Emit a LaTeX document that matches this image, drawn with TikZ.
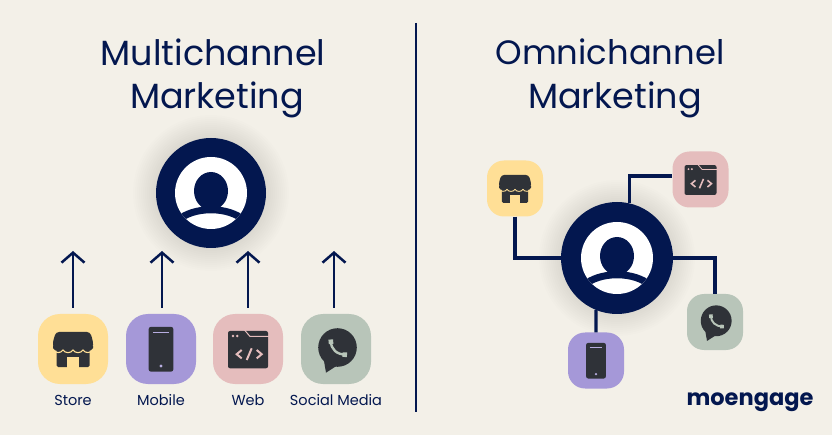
\documentclass[tikz,border=0pt]{standalone}
\usepackage{fontspec}
\setmainfont{Poppins}
\usetikzlibrary{arrows.meta}
\definecolor{paper}{HTML}{F3F0E8}
\definecolor{navy}{HTML}{03174F}
\definecolor{inkdark}{HTML}{2F3238}
\definecolor{storefill}{HTML}{FFDF96}
\definecolor{mobilefill}{HTML}{A598D8}
\definecolor{webfill}{HTML}{E5BDBD}
\definecolor{socialfill}{HTML}{B8C5B9}
\def\iconlw{1}
\tikzset{
	avatar/.pic = {
		\foreach \r in {56,58,...,78}
			\fill[black!70!paper, opacity=.009] (0,0) circle (\r);
	},
	face/.pic = {
		\fill[white] (0,0) circle (36);
		\begin{scope}
			\clip (0,0) circle (36);
			\draw[navy, line width=7pt] (-34,28) .. controls (-18,13) and (18,13) .. (34,28);
		\end{scope}
		\fill[navy] (0,-2) ellipse (17 and 19);
		\fill[navy] (-9,10) rectangle (9,18);
	},
	storeicon/.pic = {
		\fill[inkdark, rounded corners=1.5] (-16.5,-2) rectangle (16.5,18);
		\fill[storefill] (-6,8) rectangle (6,18.5);
		\fill[inkdark, rounded corners=3] (-17,-17) -- (17,-17) -- (20,-8) -- (20,-1) -- (-20,-1) -- (-20,-8) -- cycle;
		\draw[storefill, line width=1.1pt*\iconlw] (-20,0.5) .. controls (-18,4.5) and (-12,4.5) .. (-10,1)
			.. controls (-8,4.5) and (-2,4.5) .. (0,1)
			.. controls (2,4.5) and (8,4.5) .. (10,1)
			.. controls (12,4.5) and (18,4.5) .. (20,0.5);
		\fill[inkdark] (-20,-1) .. controls (-18,3) and (-12,3) .. (-10,-0.5)
			.. controls (-8,3) and (-2,3) .. (0,-0.5)
			.. controls (2,3) and (8,3) .. (10,-0.5)
			.. controls (12,3) and (18,3) .. (20,-1) -- (20,-3) -- (-20,-3) -- cycle;
	},
	mobileicon/.pic = {
		\fill[inkdark, rounded corners=2] (-12.3,-22) rectangle (12.3,22.5);
		\draw[mobilefill!80!white, line width=1pt*\iconlw] (-8,-16.7) -- (8,-16.7);
		\fill[mobilefill!80!white] (0,17) circle (1.6);
	},
	webicon/.pic = {
		\fill[inkdark, rounded corners=2] (-20,-18) rectangle (20,19.3);
		\draw[webfill, line width=1pt*\iconlw] (-3.5,-19) -- (2,-12.5) -- (21,-12.5);
		\fill[webfill] (-15,-13) circle (1.3) (-10.8,-13) circle (1.3);
		\draw[webfill, line width=2pt*\iconlw] (-6.3,1) -- (-11.3,5.2) -- (-6.3,9.4);
		\draw[webfill, line width=2pt*\iconlw] (8.7,1) -- (13.7,5.2) -- (8.7,9.4);
		\draw[webfill, line width=2pt*\iconlw] (3.7,-0.7) -- (-1.3,11);
	},
	socialicon/.pic = {
		\fill[inkdark] (1.5,-1.5) circle (19.3);
		\fill[inkdark] (-12,12) -- (-10,23.7) -- (2,16) -- cycle;
		\draw[socialfill, line width=2.4pt*\iconlw] (-5,-8) .. controls (-5.5,0) and (1,6) .. (10,5.5);
		\draw[socialfill, line width=4.6pt*\iconlw] (-5.3,-9.5) -- (-4.9,-5);
		\draw[socialfill, line width=4.6pt*\iconlw] (6.5,5.6) -- (11,5.8);
	},
}
\begin{document}
\begin{tikzpicture}[x=1pt, y=-1pt, node distance=51pt,
		main/.style = {inner sep=0pt, rounded corners=22pt, minimum size=70pt},
		smalltile/.style = {inner sep=0pt, rounded corners=17pt, minimum size=56pt},
		user/.style = {circle, fill=navy, inner sep=0pt, minimum size=110pt},
		heading/.style = {navy, font=\fontsize{35}{40}\selectfont},
		caption/.style = {navy, font=\fontsize{14.5}{16}\selectfont, text height=11pt},
		arrow/.style = {navy, line width=2.5pt, shorten <=6pt, -{Straight Barb[length=10pt,width=23pt]}},
		link/.style = {navy, line width=3.4pt}]
	\fill[paper] (0,0) rectangle (832,435);

	\node[heading] (titlem0) at (213,52) {Multichannel};
	\node[heading] (titlem1) at (217,100) {Marketing};
	\node[heading, font=\fontsize{33.8}{40}\selectfont] (titleo0) at (610,52) {Omnichannel};
	\node[heading] (titleo1) at (615,100) {Marketing};

	\coordinate (dividertop) at (416,23);
	\coordinate (dividerend) at (416,412);
	\draw[navy, line width=1.8pt] (dividertop) -- (dividerend);

	\path (211,193) pic {avatar};
	\node[user] (userm) at (211,193) {};
	\path (userm) pic {face};

	\node[main, fill=storefill] (storem) at (73,349) {};
	\node[main, fill=mobilefill] (mobilem) at (161,349) {};
	\node[main, fill=webfill] (webm) at (248,349) {};
	\node[main, fill=socialfill] (socialm) at (336,349) {};
	\node[caption, below of = storem] (labelstore) {Store};
	\node[caption, below of = mobilem] (labelmobile) {Mobile};
	\node[caption, below of = webm] (labelweb) {Web};
	\node[caption, below of = socialm] (labelsocial) {Social Media};
	\path (storem) pic {storeicon};
	\path (mobilem) pic {mobileicon};
	\path (webm) pic {webicon};
	\path (socialm) pic {socialicon};

	\coordinate (tipstore) at (73,251);
	\coordinate (tipmobile) at (162,251);
	\coordinate (tipweb) at (248,251);
	\coordinate (tipsocial) at (334,251);
	\draw[arrow] (storem.north) -- (tipstore);
	\draw[arrow] (mobilem.north -| tipmobile) -- (tipmobile);
	\draw[arrow] (webm.north) -- (tipweb);
	\draw[arrow] (socialm.north -| tipsocial) -- (tipsocial);

	\path (617,258) pic {avatar};
	\node[user, minimum size=112pt] (usero) at (617,258) {};
	\path (usero) pic {face};

	\node[smalltile, fill=storefill] (storeo) at (515,188.5) {};
	\node[smalltile, fill=webfill] (webo) at (700.5,179.5) {};
	\node[smalltile, fill=socialfill] (socialo) at (715,322) {};
	\node[smalltile, fill=mobilefill] (mobileo) at (596,360.5) {};
	\def\iconlw{.8}
	\path (storeo) pic[scale=.8] {storeicon};
	\path (webo) pic[scale=.8] {webicon};
	\path (socialo) pic[scale=.8] {socialicon};
	\path (mobileo) pic[scale=.8] {mobileicon};

	\coordinate (webknee) at (630,176);
	\draw[link] (storeo) |- (usero);
	\draw[link] (usero.77) |- (webo.west |- webknee);
	\draw[link] (usero) -| (socialo);
	\draw[link] (mobileo.north) -- (usero.248);

	\node[navy, font=\fontsize{22.5}{30}\bfseries\selectfont] (logo) at (750,402) {moengage};
\end{tikzpicture}
\end{document}
